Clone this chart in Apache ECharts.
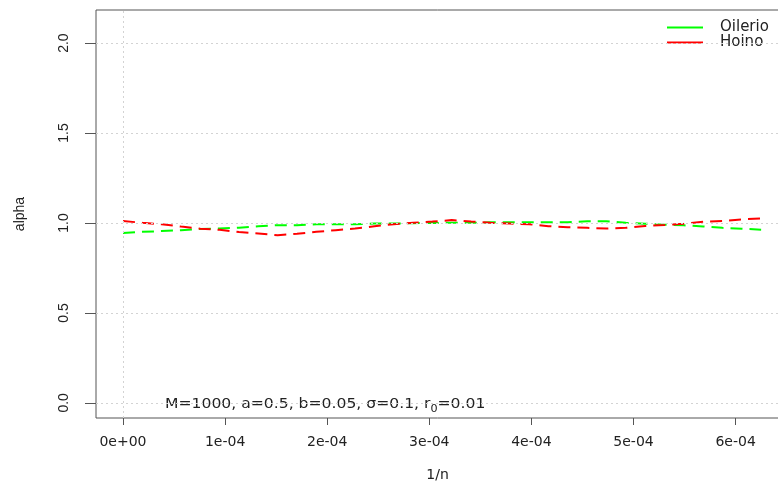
<!DOCTYPE html>
<html><head><meta charset="utf-8">
<script src="https://cdn.jsdelivr.net/npm/echarts@6/dist/echarts.min.js"></script>
<style>html,body{margin:0;padding:0;background:#fff}#c{width:778px;height:483px}</style>
</head><body><div id="c"></div>
<script>
// ---- data ----
var xStep = 6.25e-4 / 33;
var oilerio = [0.945, 0.951, 0.955, 0.960, 0.967, 0.969, 0.974, 0.982, 0.988, 0.988, 0.993, 0.993, 0.993, 0.997, 0.997, 0.999, 1.000,
               1.001, 1.001, 1.004, 1.004, 1.004, 1.004, 1.004, 1.010, 1.010, 1.001, 0.996, 0.990, 0.987, 0.981, 0.973, 0.968, 0.963];
var hoino   = [1.011, 1.001, 0.993, 0.980, 0.968, 0.962, 0.950, 0.942, 0.932, 0.940, 0.951, 0.960, 0.969, 0.982, 0.993, 1.001, 1.008,
               1.016, 1.008, 1.001, 0.997, 0.993, 0.982, 0.977, 0.973, 0.969, 0.973, 0.983, 0.989, 0.996, 1.007, 1.011, 1.020, 1.025];
var xTickValues = [0, 1e-4, 2e-4, 3e-4, 4e-4, 5e-4, 6e-4];
var xTickLabels = ['0e+00', '1e-04', '2e-04', '3e-04', '4e-04', '5e-04', '6e-04'];
var yTickValues = [0, 0.5, 1, 1.5, 2];
var yTickLabels = ['0.0', '0.5', '1.0', '1.5', '2.0'];
var seriesNames = ['Oilerio', 'Hoino'];

function pairs(vals) { return vals.map(function (v, i) { return [i * xStep, v]; }); }
var FONT = "'DejaVu Sans', sans-serif";
var FONT2 = "'Liberation Sans', Arial, sans-serif";
var TXT = '#222';

var gridMarks = xTickValues.map(function (v) { return { xAxis: v }; })
  .concat(yTickValues.map(function (v) { return { yAxis: v }; }));

var chart = echarts.init(document.getElementById('c'), null, { renderer: 'canvas' });
chart.setOption({
  animation: false,
  backgroundColor: '#fff',
  textStyle: { fontFamily: FONT },
  grid: { left: 96, top: 10, width: 683, height: 408, outerBoundsMode: 'none', containLabel: false,
          show: true, borderColor: '#555', borderWidth: 1, backgroundColor: 'transparent' },
  legend: {
    data: seriesNames,
    orient: 'vertical', left: 662, top: 15,
    icon: 'rect', itemWidth: 36, itemHeight: 2, itemGap: 0,
    textStyle: { fontSize: 15, color: TXT, fontFamily: FONT, padding: [0, 0, 0, 12], lineHeight: 14 },
    selectedMode: false
  },
  xAxis: {
    type: 'value', min: -0.2644e-4, max: 6.425e-4,
    name: '1/n', nameLocation: 'middle', nameGap: 50,
    nameTextStyle: { fontSize: 14, color: TXT, fontFamily: FONT },
    axisLine: { show: false, onZero: false },
    axisTick: { show: true, customValues: xTickValues, length: 7, lineStyle: { color: '#555' } },
    axisLabel: { customValues: xTickValues, margin: 17, fontSize: 14, color: TXT, fontFamily: FONT,
      formatter: function (v) { var i = Math.round(v * 1e4); return xTickLabels[i] || ''; } },
    splitLine: { show: false }
  },
  yAxis: {
    type: 'value', min: -0.084, max: 2.184,
    name: 'alpha', nameLocation: 'middle', nameGap: 69, nameRotate: 90,
    nameTextStyle: { fontSize: 14, color: TXT, fontFamily: FONT2 },
    axisLine: { show: false, onZero: false },
    axisTick: { show: true, customValues: yTickValues, length: 11, lineStyle: { color: '#555' } },
    axisLabel: { customValues: yTickValues, rotate: 90, margin: 25, fontSize: 14, color: TXT, fontFamily: FONT2,
      formatter: function (v) { var i = Math.round(v * 2); return yTickLabels[i] || ''; } },
    splitLine: { show: false }
  },
  series: [
    { name: seriesNames[0], type: 'line', data: pairs(oilerio), showSymbol: false, symbol: 'none', color: '#00ff00',
      lineStyle: { color: '#00ff00', width: 2, type: [12, 7] },
      markLine: { silent: true, symbol: ['none', 'none'], label: { show: false },
        lineStyle: { color: '#d3d3d3', width: 1, type: [2, 3] }, data: gridMarks }, z: 3 },
    { name: seriesNames[1], type: 'line', data: pairs(hoino), showSymbol: false, symbol: 'none', color: '#ff0000',
      lineStyle: { color: '#ff0000', width: 2, type: [12, 7] }, z: 4 }
  ],
  graphic: [{
    type: 'text', x: 165, y: 403, scaleX: 1.115, scaleY: 1,
    style: {
      text: '{a|M=1000, a=0.5, b=0.05, σ=0.1, r}{s|0}{a|=0.01}',
      verticalAlign: 'middle', align: 'left',
      rich: {
        a: { fontSize: 14, fill: TXT, fontFamily: FONT, verticalAlign: 'bottom', lineHeight: 16 },
        s: { fontSize: 10, fill: TXT, fontFamily: FONT, verticalAlign: 'bottom', lineHeight: 12, padding: [0, 0, -3, 0] }
      }
    }
  }]
});
</script></body></html>
